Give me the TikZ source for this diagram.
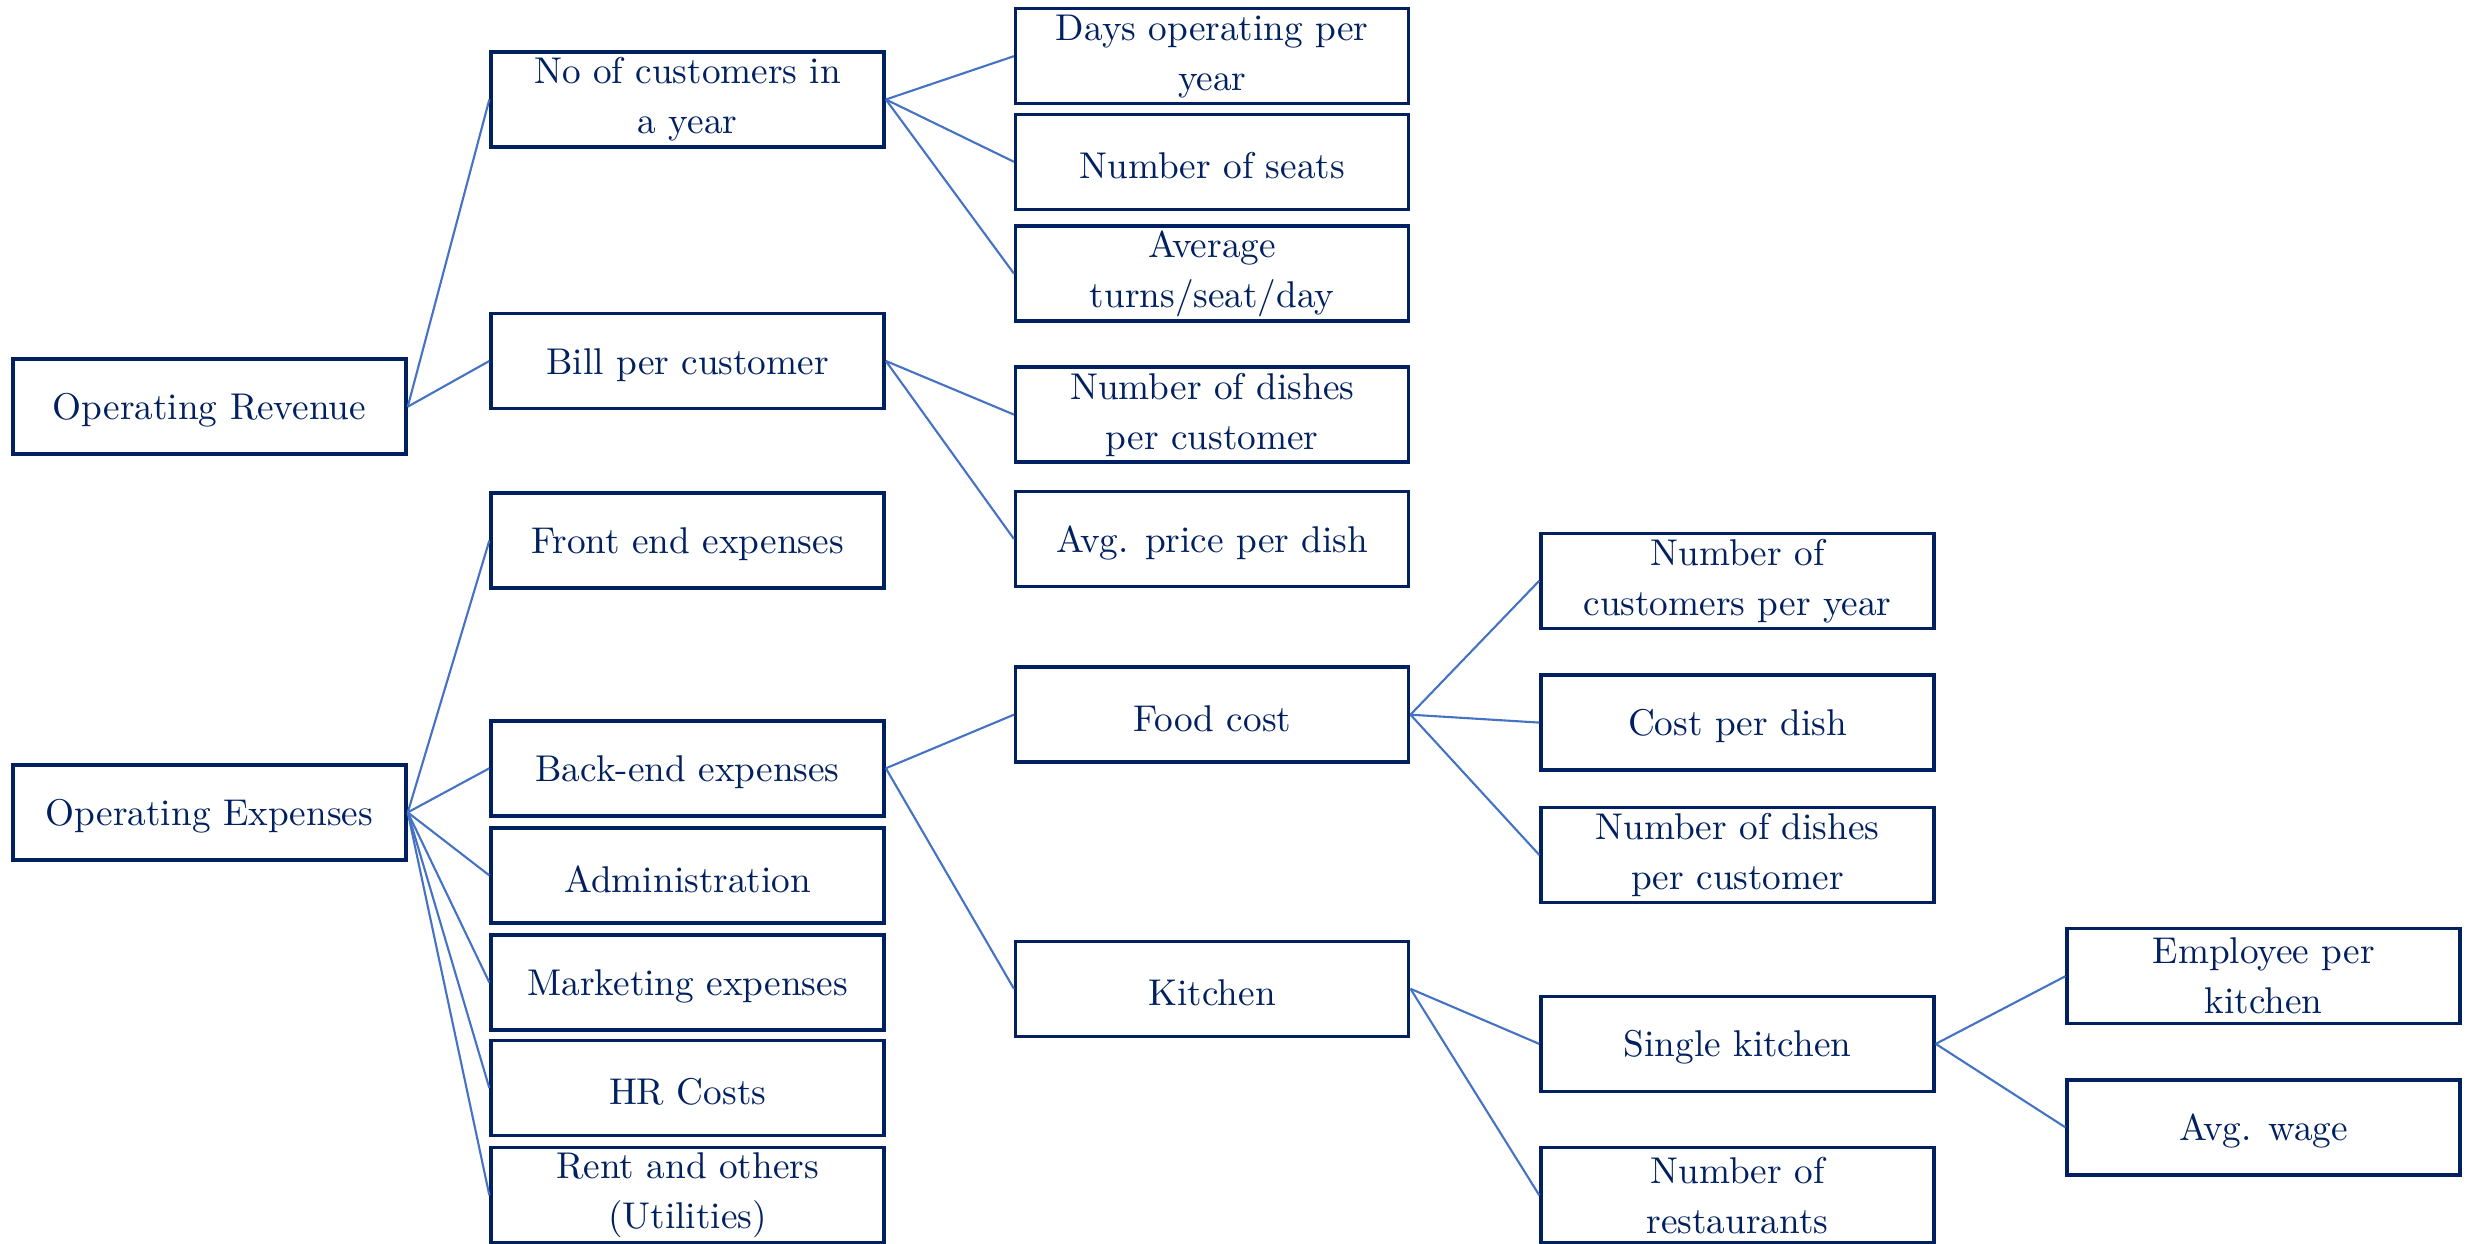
\documentclass[tikz,border=0pt]{standalone}
\usepackage{tikz}
\definecolor{boxcolor}{RGB}{0, 32, 96}
\definecolor{linkcolor}{RGB}{68, 114, 196}
\tikzset{
treebox/.style={
  draw=boxcolor,
  line width=1pt,
  minimum width=3.93cm,
  minimum height=0.95cm,
  inner sep=0pt,
  align=center,
  text=boxcolor,
  font=\fontsize{10.6}{14.2}\selectfont,
  execute at begin node={\rule{0pt}{9.6pt}}
},
link/.style={
  draw=linkcolor,
  line width=0.6pt
}
}

\begin{document}
\begin{tikzpicture}
\useasboundingbox (0, 0) rectangle (24.7, 12.44);

% ============================================================================
% RECEITA (Operating Revenue)
% ============================================================================
\node[treebox] (op_rev) at (2.095, 8.373) {Operating Revenue};

\node[treebox] (rev_cust) at (6.876, 11.445) {No of customers in\\a year};
\node[treebox] (rev_bill) at (6.876, 8.830) {Bill per customer};

\node[treebox] (cust_days) at (12.122, 11.878) {Days operating per\\year};
\node[treebox] (cust_seats) at (12.122, 10.822) {Number of seats};
\node[treebox] (cust_turns) at (12.122, 9.704) {Average\\turns/seat/day};

\node[treebox] (bill_dishes) at (12.122, 8.294) {Number of dishes\\per customer};
\node[treebox] (bill_price) at (12.122, 7.050) {Avg. price per dish};

\draw[link] (op_rev.east) -- (rev_cust.west);
\draw[link] (op_rev.east) -- (rev_bill.west);
\draw[link] (rev_cust.east) -- (cust_days.west);
\draw[link] (rev_cust.east) -- (cust_seats.west);
\draw[link] (rev_cust.east) -- (cust_turns.west);
\draw[link] (rev_bill.east) -- (bill_dishes.west);
\draw[link] (rev_bill.east) -- (bill_price.west);

% ============================================================================
% DESPESAS (Operating Expenses)
% ============================================================================
\node[treebox] (op_exp) at (2.095, 4.316) {Operating Expenses};

\node[treebox] (exp_front) at (6.876, 7.034) {Front end expenses};
\node[treebox] (exp_back) at (6.876, 4.757) {Back-end expenses};
\node[treebox] (exp_admin) at (6.876, 3.686) {Administration};
\node[treebox] (exp_mkt) at (6.876, 2.615) {Marketing expenses};
\node[treebox] (exp_hr) at (6.876, 1.560) {HR Costs};
\node[treebox] (exp_rent) at (6.876, 0.488) {Rent and others\\(Utilities)};

\draw[link] (op_exp.east) -- (exp_front.west);
\draw[link] (op_exp.east) -- (exp_back.west);
\draw[link] (op_exp.east) -- (exp_admin.west);
\draw[link] (op_exp.east) -- (exp_mkt.west);
\draw[link] (op_exp.east) -- (exp_hr.west);
\draw[link] (op_exp.east) -- (exp_rent.west);

% Back-end
\node[treebox] (back_food) at (12.122, 5.293) {Food cost};
\node[treebox] (back_kitchen) at (12.122, 2.552) {Kitchen};

\draw[link] (exp_back.east) -- (back_food.west);
\draw[link] (exp_back.east) -- (back_kitchen.west);

% Food cost
\node[treebox] (food_cust) at (17.375, 6.632) {Number of\\customers per year};
\node[treebox] (food_cost) at (17.375, 5.214) {Cost per dish};
\node[treebox] (food_dishes) at (17.375, 3.891) {Number of dishes\\per customer};

\draw[link] (back_food.east) -- (food_cust.west);
\draw[link] (back_food.east) -- (food_cost.west);
\draw[link] (back_food.east) -- (food_dishes.west);

% Kitchen
\node[treebox] (kit_single) at (17.375, 2.001) {Single kitchen};
\node[treebox] (kit_rest) at (17.375, 0.488) {Number of\\restaurants};

\draw[link] (back_kitchen.east) -- (kit_single.west);
\draw[link] (back_kitchen.east) -- (kit_rest.west);

% Single kitchen
\node[treebox] (single_emp) at (22.637, 2.678) {Employee per\\kitchen};
\node[treebox] (single_wage) at (22.637, 1.166) {Avg. wage};

\draw[link] (kit_single.east) -- (single_emp.west);
\draw[link] (kit_single.east) -- (single_wage.west);

\end{tikzpicture}
\end{document}
